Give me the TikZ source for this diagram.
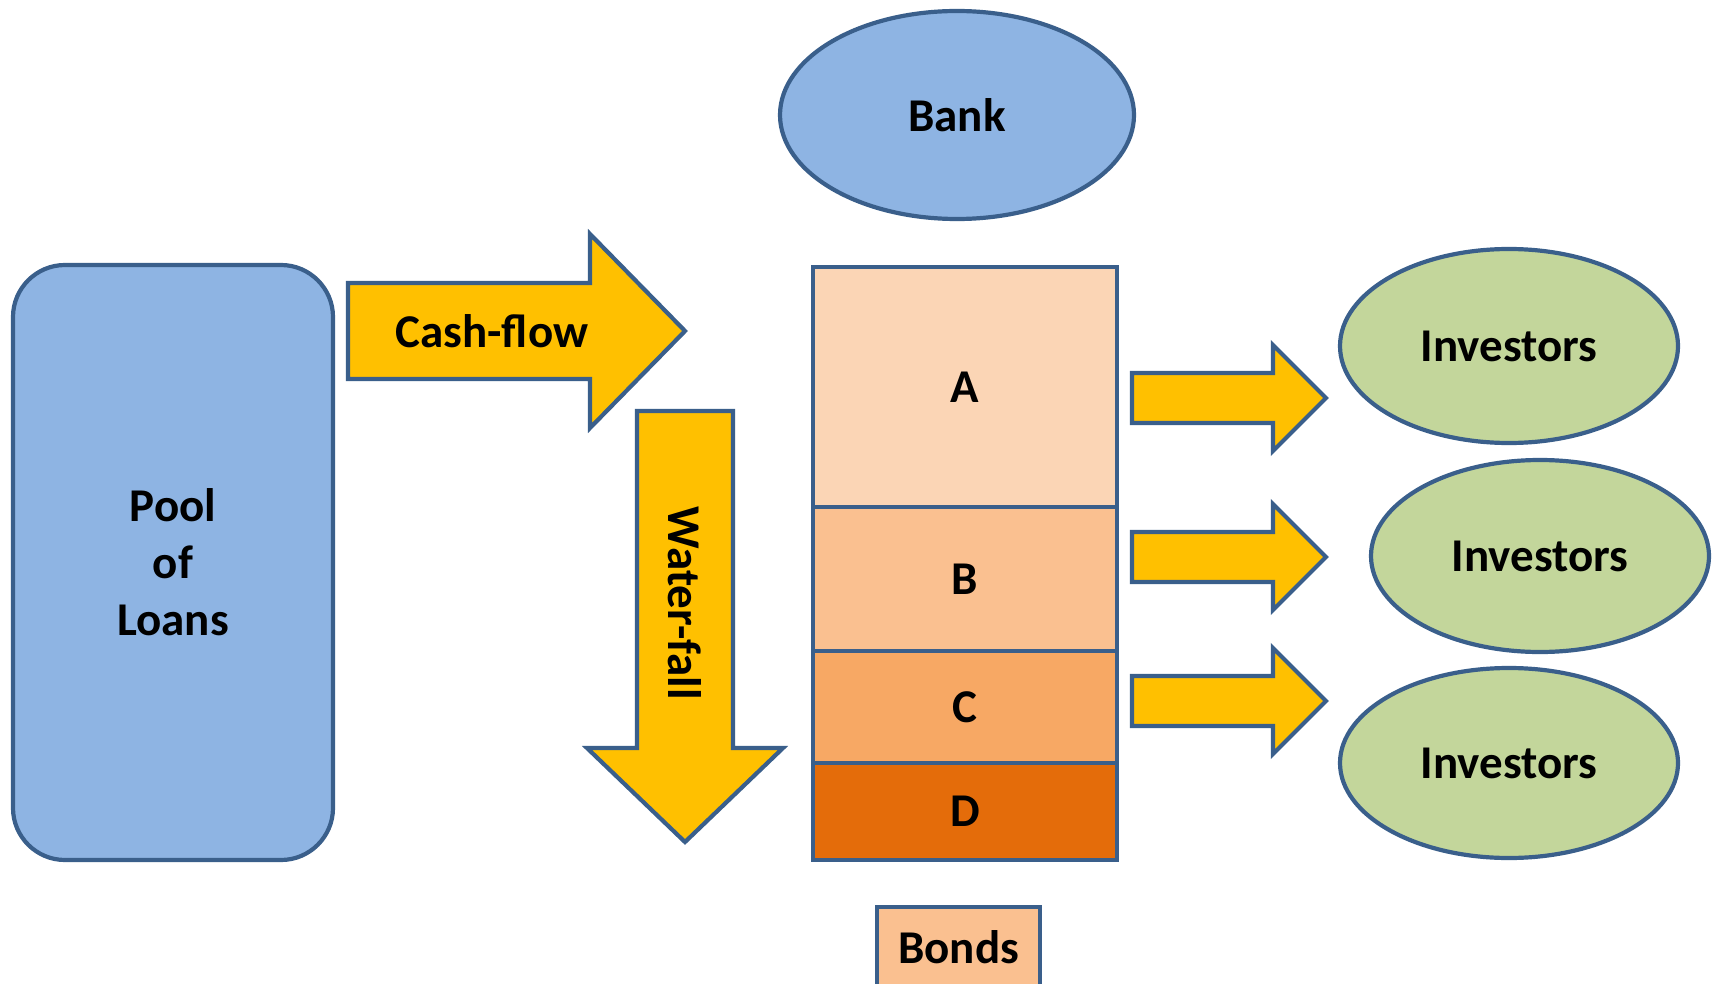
\documentclass[tikz,border=0pt]{standalone}
\usepackage{fontspec}
\setmainfont{Carlito}
\usetikzlibrary{shapes.geometric}
\definecolor{edge}{HTML}{3A5F8B}
\definecolor{skyfill}{HTML}{8EB4E3}
\definecolor{gold}{HTML}{FFC000}
\definecolor{leaf}{HTML}{C3D69B}
\definecolor{trancheA}{HTML}{FBD5B5}
\definecolor{trancheB}{HTML}{FAC090}
\definecolor{trancheC}{HTML}{F7A864}
\definecolor{trancheD}{HTML}{E46C0A}
\tikzset{
  lbl/.style={font=\bfseries\fontsize{23.5}{28.5}\selectfont, text=black},
  outlined/.style={draw=edge, line width=2.1pt},
  oval/.style={ellipse, outlined, inner sep=0pt, lbl},
  tranche/.style={rectangle, outlined, inner sep=0pt, minimum width=152pt, lbl},
  blockarrow/.style={outlined, fill=gold, line join=miter},
}
\begin{document}
\begin{tikzpicture}[x=0.5pt, y=-0.5pt]
\useasboundingbox (0,0) rectangle (1713,984);
\clip (0,0) rectangle (1713,984);

% originator and pool
\node[oval, fill=skyfill, minimum width=177pt, minimum height=104pt] (bank) at (957,115) {Bank};
\node[rectangle, outlined, fill=skyfill, rounded corners=26pt, minimum width=160pt,
      minimum height=297.5pt, align=center, lbl] (pool) at (173,562.5) {Pool\\of\\Loans};

% cash-flow block arrow
\draw[blockarrow] (348,283) -- (590,283) -- (590,234) -- (685,331) -- (590,428)
  -- (590,379) -- (348,379) -- cycle;
\node[lbl] (cashflow) at (492,331) {Cash-flow};

% water-fall block arrow
\draw[blockarrow] (637,411) -- (733,411) -- (733,748) -- (783,748) -- (685,842)
  -- (587,748) -- (637,748) -- cycle;
\node[lbl, rotate=-90] (waterfall) at (685,603) {Water-fall};

% tranche stack
\node[tranche, fill=trancheA, minimum height=120pt] (ta) at (965,387) {A};
\node[tranche, fill=trancheB, minimum height=72pt] (tb) at (965,579) {B};
\node[tranche, fill=trancheC, minimum height=56pt] (tc) at (965,707) {C};
\node[tranche, fill=trancheD, minimum height=48.5pt] (td) at (965,811.5) {D};

% legend
\node[rectangle, outlined, fill=trancheB, minimum width=81.5pt, minimum height=50pt,
      inner sep=0pt] (bonds) at (958.5,957) {};
\node[lbl] (bondslbl) at (958.5,947) {Bonds};

% payouts to investors
\foreach \yc/\n in {398/1, 557/2, 701/3} {
  \draw[blockarrow] (1132,\yc-25) -- (1273,\yc-25) -- (1273,\yc-53) -- (1326,\yc)
    -- (1273,\yc+53) -- (1273,\yc+25) -- (1132,\yc+25) -- cycle;
}
\node[oval, fill=leaf, minimum width=169pt, minimum height=97pt] (inv1) at (1509,346) {Investors};
\node[oval, fill=leaf, minimum width=169pt, minimum height=96pt] (inv2) at (1540,556) {Investors};
\node[oval, fill=leaf, minimum width=169pt, minimum height=95pt] (inv3) at (1509,763) {Investors};
\end{tikzpicture}
\end{document}
